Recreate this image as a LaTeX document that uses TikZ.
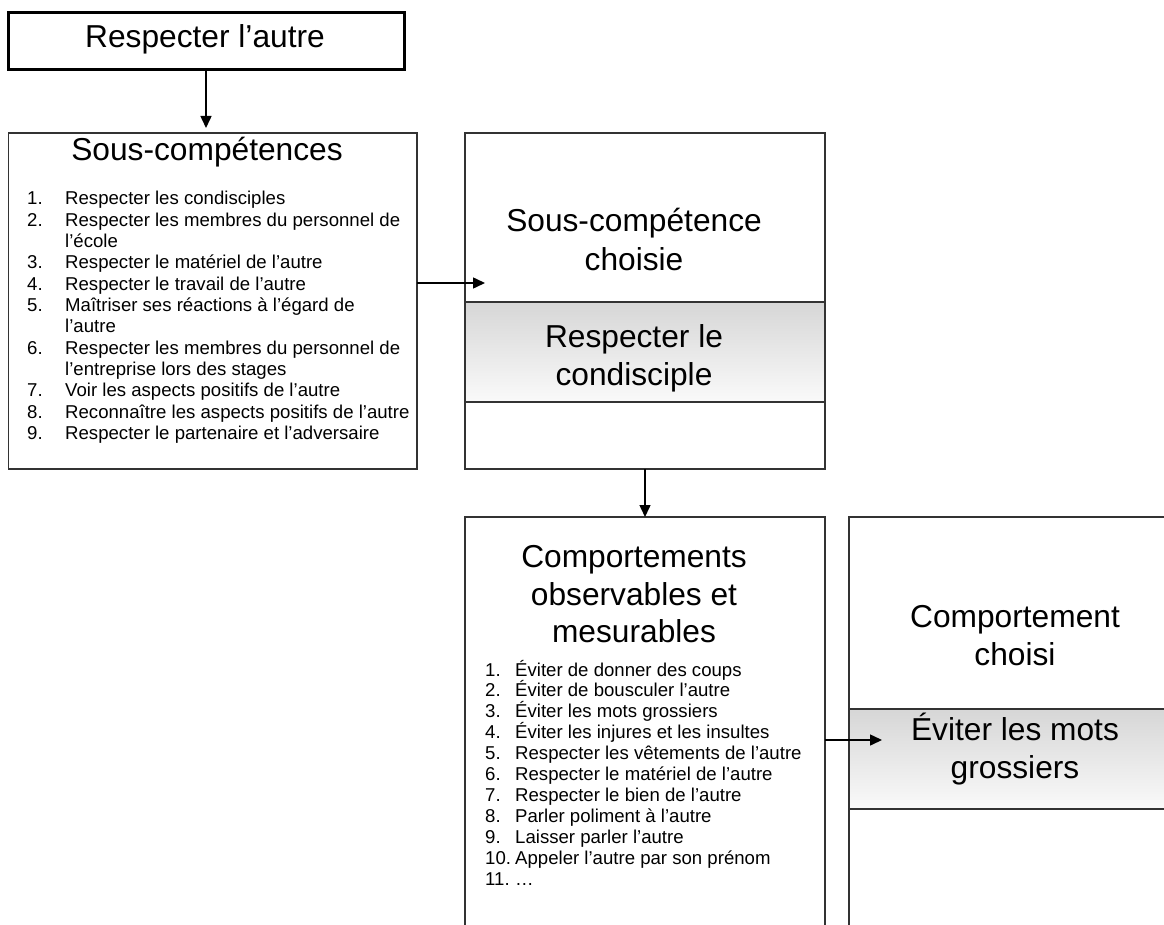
\documentclass[tikz,border=0pt]{standalone}
\usepackage{fontspec}
\setmainfont{Liberation Sans}
\usetikzlibrary{arrows.meta}

\newcommand{\titlesize}{\fontsize{31.7}{36.5}\selectfont}
\newcommand{\itemsize}{\fontsize{18.6}{21.3}\selectfont}

\tikzset{
  box/.style={rectangle, draw=black!80, line width=1.3pt, inner sep=0pt, outer sep=0pt},
  goalbox/.style={box, draw=black, line width=3pt},
  band/.style={box, top color=black!16, bottom color=black!2},
  title/.style={font=\titlesize, anchor=base, inner sep=0pt},
  item/.style={font=\itemsize, anchor=base west, inner sep=0pt},
  link/.style={draw=black, line width=1.5pt, -{Triangle[length=12pt,width=11pt]}}
}

\begin{document}
\begin{tikzpicture}[x=1pt, y=-1pt]
  \useasboundingbox (0,0) rectangle (1164,925);
  \clip (0,0) rectangle (1164,925);

  % bands first, outlines over them
  \node[band, minimum width=360pt, minimum height=100pt] (choixband) at (645,352) {};
  \node[band, minimum width=351pt, minimum height=100pt] (compband) at (1024.5,759) {};

  % boxes
  \node[goalbox, minimum width=396pt, minimum height=57pt] (top) at (206,41.5) {};
  \node[box, minimum width=408.5pt, minimum height=336pt] (sous) at (212.75,301) {};
  \node[box, minimum width=360pt, minimum height=336pt] (choix) at (645,301) {};
  \node[box, minimum width=360pt, minimum height=443pt] (comp) at (645,738.5) {};
  \node[box, minimum width=351pt, minimum height=443pt] (choisi) at (1024.5,738.5) {};

  % titles
  \node[title] (toptitle) at (205,48) {Respecter l’autre};
  \node[title] (soustitle) at (207,161) {Sous-compétences};
  \node[title] (choixtitlea) at (634,232) {Sous-compétence};
  \node[title] (choixtitleb) at (634,270) {choisie};
  \node[title] (choixvala) at (634,347) {Respecter le};
  \node[title] (choixvalb) at (634,385) {condisciple};
  \node[title] (comptitlea) at (634,567) {Comportements};
  \node[title] (comptitleb) at (634,605) {observables et};
  \node[title] (comptitlec) at (634,642) {mesurables};
  \node[title] (choisititlea) at (1015,627) {Comportement};
  \node[title] (choisititleb) at (1015,665) {choisi};
  \node[title] (choisivala) at (1015,740) {Éviter les mots};
  \node[title] (choisivalb) at (1015,778) {grossiers};

  % list of sous-competences
  \foreach \num/\txt [count=\i from 0] in {
      1./Respecter les condisciples,
      2./Respecter les membres du personnel de,
      /l’école,
      3./Respecter le matériel de l’autre,
      4./Respecter le travail de l’autre,
      5./Maîtriser ses réactions à l’égard de,
      /l’autre,
      6./Respecter les membres du personnel de,
      /l’entreprise lors des stages,
      7./Voir les aspects positifs de l’autre,
      8./Reconnaître les aspects positifs de l’autre,
      9./Respecter le partenaire et l’adversaire}
  {
    \node[item] (scn\i) at (27,{205+\i*21.3}) {\num};
    \node[item] (sct\i) at (65,{205+\i*21.3}) {\txt};
  }

  % list of comportements
  \foreach \num/\txt [count=\i from 0] in {
      1./Éviter de donner des coups,
      2./Éviter de bousculer l’autre,
      3./Éviter les mots grossiers,
      4./Éviter les injures et les insultes,
      5./Respecter les vêtements de l’autre,
      6./Respecter le matériel de l’autre,
      7./Respecter le bien de l’autre,
      8./Parler poliment à l’autre,
      9./Laisser parler l’autre,
      10./Appeler l’autre par son prénom,
      11./…}
  {
    \node[item] (cpn\i) at (485,{676+\i*20.9}) {\num};
    \node[item] (cpt\i) at (515,{676+\i*20.9}) {\txt};
  }

  % connectors
  \coordinate (choixin) at (485,283);
  \coordinate (choisiin) at (882,740);
  \draw[link, shorten >=5pt] (top.south) -- (top.south |- sous.north);
  \draw[link] (sous.east |- choixin) -- (choixin);
  \draw[link] (choix.south) -- (comp.north);
  \draw[link] (comp.east |- choisiin) -- (choisiin);
\end{tikzpicture}
\end{document}
